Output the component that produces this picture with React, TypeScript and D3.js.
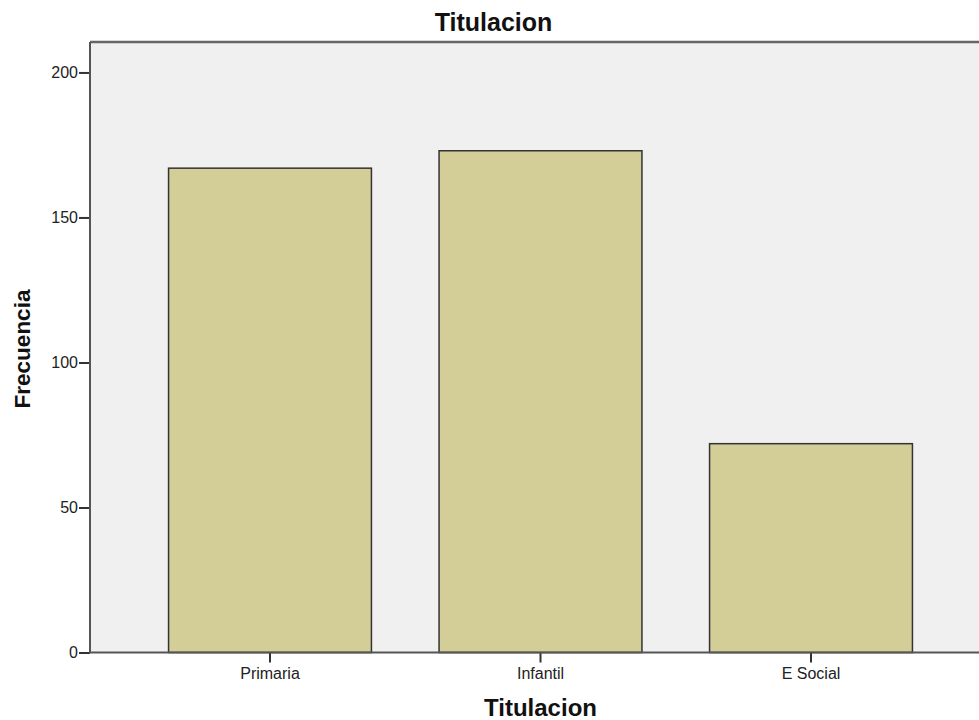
import { useEffect, useRef } from 'react'
import * as d3 from 'd3'

const categories = ['Primaria', 'Infantil', 'E Social']
const frecuencias = [167, 173, 72]
const yTicks = [0, 50, 100, 150, 200]

const W = 979
const H = 720
const FONT = 'Liberation Sans, Arial, sans-serif'

export default function App() {
  const svgRef = useRef<SVGSVGElement>(null)

  useEffect(() => {
    if (!svgRef.current) return
    const svg = d3.select(svgRef.current)
    svg.selectAll('*').remove()

    const left = 90
    const top = 42
    const bottom = 652.5

    const x = d3.scaleBand<string>()
      .domain(categories)
      .range([134.75, 946.25])
      .paddingInner(0.25)
      .paddingOuter(0.125)

    const y = d3.scaleLinear()
      .domain([0, 210.5])
      .range([bottom, top])

    // plot background
    svg.append('rect')
      .attr('x', left)
      .attr('y', top)
      .attr('width', W - left)
      .attr('height', bottom - top)
      .attr('fill', '#f0f0f0')

    // bars
    svg.selectAll('.bar')
      .data(categories)
      .enter().append('rect')
      .attr('class', 'bar')
      .attr('x', d => x(d)!)
      .attr('y', (d, i) => y(frecuencias[i]))
      .attr('width', x.bandwidth())
      .attr('height', (d, i) => bottom - y(frecuencias[i]))
      .attr('fill', '#d3ce97')
      .attr('stroke', '#333')
      .attr('stroke-width', 1.5)

    // top frame line
    svg.append('line')
      .attr('x1', left).attr('x2', W)
      .attr('y1', top).attr('y2', top)
      .attr('stroke', '#666').attr('stroke-width', 2.5)

    // axes
    const yAxis = svg.append('g')
      .attr('transform', `translate(${left},0)`)
      .call(d3.axisLeft(y).tickValues(yTicks).tickSize(11).tickPadding(1))
    yAxis.select('.domain').remove()
    yAxis.append('line')
      .attr('x1', 0).attr('x2', 0)
      .attr('y1', top).attr('y2', bottom)
      .attr('stroke', '#555').attr('stroke-width', 2)

    const xAxis = svg.append('g')
      .attr('transform', `translate(0,${bottom})`)
      .call(d3.axisBottom(x).tickSize(10).tickPadding(5))
    xAxis.select('.domain').remove()
    xAxis.append('line')
      .attr('x1', left - 1).attr('x2', W)
      .attr('y1', 0).attr('y2', 0)
      .attr('stroke', '#555').attr('stroke-width', 2)

    svg.selectAll('.tick line')
      .attr('stroke', '#333')
      .attr('stroke-width', 2)
    svg.selectAll('.tick text')
      .attr('fill', '#222')
      .style('font-family', FONT)
      .style('font-size', '16px')

    // titles
    svg.append('text')
      .attr('x', 493.5)
      .attr('y', 31)
      .attr('text-anchor', 'middle')
      .style('font-family', FONT)
      .style('font-size', '25px')
      .style('font-weight', 'bold')
      .attr('fill', '#111')
      .text('Titulacion')

    svg.append('text')
      .attr('x', 540.5)
      .attr('y', 716)
      .attr('text-anchor', 'middle')
      .style('font-family', FONT)
      .style('font-size', '24px')
      .style('font-weight', 'bold')
      .attr('fill', '#111')
      .text('Titulacion')

    svg.append('text')
      .attr('transform', `translate(30,349) rotate(-90)`)
      .attr('text-anchor', 'middle')
      .style('font-family', FONT)
      .style('font-size', '22.5px')
      .style('font-weight', 'bold')
      .attr('fill', '#111')
      .text('Frecuencia')
  }, [])

  return (
    <svg ref={svgRef} width={W} height={H}
      style={{ position: 'absolute', left: 0, top: 0, background: '#fff' }} />
  )
}
